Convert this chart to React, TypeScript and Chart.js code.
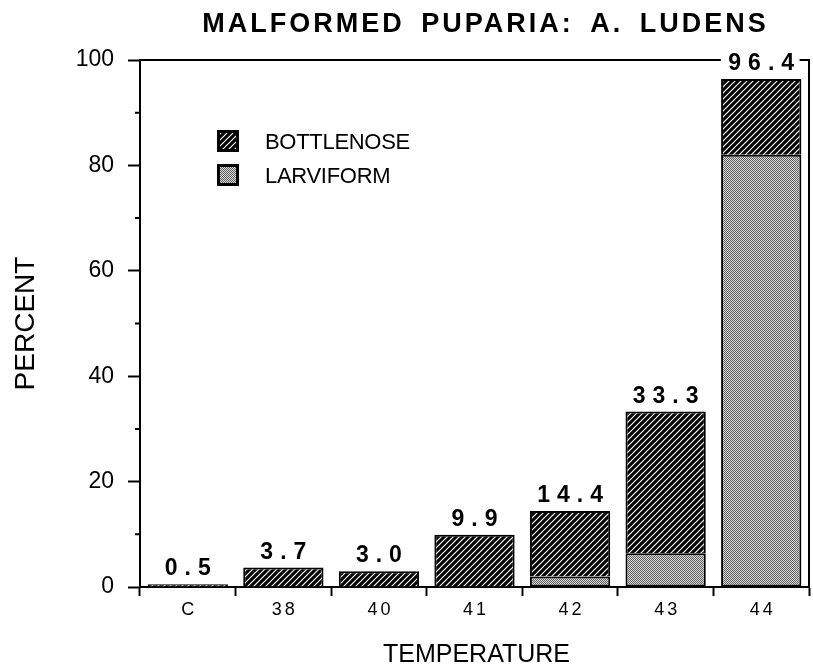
import { useEffect, useRef } from "react";
import { Chart, registerables } from "chart.js";

Chart.register(...registerables);

const categories = ["C", "38", "40", "41", "42", "43", "44"];
const larviform: (number | null)[] = [null, null, null, null, 2.0, 6.4, 82.0];
const bottlenose: number[] = [0.5, 3.7, 3.0, 9.9, 12.4, 26.9, 14.4];
const minorTicks = [10, 30, 50, 70, 90];
const seriesNames = ["BOTTLENOSE", "LARVIFORM"];
const titleText = "MALFORMED PUPARIA: A. LUDENS";
const xTitle = "TEMPERATURE";
const yTitle = "PERCENT";

const FAMILY = "'Liberation Sans', Arial, Helvetica, sans-serif";

function makeHatch(): CanvasPattern | string {
  const c = document.createElement("canvas");
  c.width = 6;
  c.height = 6;
  const g = c.getContext("2d");
  if (!g) return "#333";
  g.fillStyle = "#000";
  g.fillRect(0, 0, 6, 6);
  g.strokeStyle = "#fff";
  g.lineWidth = 1.2;
  g.beginPath();
  g.moveTo(-1, 7);
  g.lineTo(7, -1);
  g.moveTo(-1, 1);
  g.lineTo(1, -1);
  g.moveTo(5, 7);
  g.lineTo(7, 5);
  g.stroke();
  return g.createPattern(c, "repeat") || "#333";
}

function makeStipple(): CanvasPattern | string {
  const c = document.createElement("canvas");
  c.width = 2;
  c.height = 2;
  const g = c.getContext("2d");
  if (!g) return "#aaa";
  g.fillStyle = "#dedede";
  g.fillRect(0, 0, 2, 2);
  g.fillStyle = "#5a5a5a";
  g.fillRect(0, 0, 1, 1);
  g.fillRect(1, 1, 1, 1);
  return g.createPattern(c, "repeat") || "#aaa";
}

export default function App() {
  const ref = useRef<HTMLCanvasElement | null>(null);

  useEffect(() => {
    const canvas = ref.current;
    if (!canvas) return;
    const hatch = makeHatch();
    const stipple = makeStipple();

    const decor = {
      id: "decor",
      afterDraw(chart: any) {
        const ctx: CanvasRenderingContext2D = chart.ctx;
        const ca = chart.chartArea;
        const xs = chart.scales.x;
        const ys = chart.scales.y;
        ctx.save();
        ctx.fillStyle = "#000";
        ctx.strokeStyle = "#000";

        // frame top and right
        ctx.lineWidth = 2;
        ctx.beginPath();
        ctx.moveTo(ca.left, ca.top);
        ctx.lineTo(ca.right, ca.top);
        ctx.lineTo(ca.right, ca.bottom);
        ctx.stroke();

        // minor ticks
        ctx.beginPath();
        minorTicks.forEach((v) => {
          const py = ys.getPixelForValue(v);
          ctx.moveTo(ca.left - 5, py);
          ctx.lineTo(ca.left, py);
        });
        ctx.stroke();

        // x tick labels
        ctx.font = `18px ${FAMILY}`;
        (ctx as any).letterSpacing = "3px";
        ctx.textAlign = "center";
        ctx.textBaseline = "alphabetic";
        categories.forEach((c, i) => {
          const px = xs.getPixelForValue(i);
          ctx.fillText(c, px + 1.5, ca.bottom + 28);
        });

        // data labels
        const meta = chart.getDatasetMeta(1);
        ctx.font = `bold 23px ${FAMILY}`;
        (ctx as any).letterSpacing = "7px";
        categories.forEach((_, i) => {
          const total = (larviform[i] || 0) + bottlenose[i];
          const txt = total.toFixed(1);
          const px = meta.data[i].x;
          const py = ys.getPixelForValue(total);
          const w = ctx.measureText(txt).width;
          ctx.fillStyle = "#fff";
          ctx.fillRect(px - w / 2 - 4, py - 9 - 20, w + 6, 23);
          ctx.fillStyle = "#000";
          ctx.fillText(txt, px + 3.5, py - 9);
        });

        // legend
        (ctx as any).letterSpacing = "0px";
        const fills = [hatch, stipple];
        const bx = ca.left + 77;
        const by = [ca.top + 70, ca.top + 104];
        const size = 22;
        seriesNames.forEach((name, i) => {
          ctx.fillStyle = fills[i] as any;
          ctx.fillRect(bx, by[i], size, size);
          ctx.lineWidth = 3;
          ctx.strokeStyle = "#000";
          ctx.strokeRect(bx + 1.5, by[i] + 1.5, size - 3, size - 3);
          ctx.fillStyle = "#000";
          ctx.font = `22px ${FAMILY}`;
          ctx.textAlign = "left";
          ctx.textBaseline = "alphabetic";
          (ctx as any).letterSpacing = "-0.3px";
          ctx.fillText(name, ca.left + 125, by[i] + size / 2 + 8);
          (ctx as any).letterSpacing = "0px";
        });

        // title
        ctx.font = `bold 27px ${FAMILY}`;
        (ctx as any).letterSpacing = "3px";
        (ctx as any).wordSpacing = "6px";
        ctx.textAlign = "center";
        ctx.fillText(titleText, (ca.left + ca.right) / 2 + 11, 32);
        (ctx as any).letterSpacing = "0px";
        (ctx as any).wordSpacing = "0px";

        // x title
        ctx.font = `25px ${FAMILY}`;
        ctx.fillText(xTitle, (ca.left + ca.right) / 2 + 2, 662);

        // y title
        ctx.save();
        ctx.translate(34, (ca.top + ca.bottom) / 2);
        ctx.rotate(-Math.PI / 2);
        ctx.font = `28px ${FAMILY}`;
        ctx.textAlign = "center";
        ctx.fillText(yTitle, 0, 0);
        ctx.restore();

        ctx.restore();
      },
    };

    const chart = new Chart(canvas, {
      type: "bar",
      data: {
        labels: categories,
        datasets: [
          {
            label: seriesNames[1],
            data: larviform,
            backgroundColor: stipple as any,
            borderColor: "#000",
            borderWidth: 2,
            borderSkipped: false,
            barPercentage: 0.84,
            categoryPercentage: 1,
          },
          {
            label: seriesNames[0],
            data: bottlenose,
            backgroundColor: hatch as any,
            borderColor: "#000",
            borderWidth: 2,
            borderSkipped: "start",
            barPercentage: 0.84,
            categoryPercentage: 1,
          },
        ],
      },
      options: {
        responsive: false,
        animation: false,
        devicePixelRatio: 1,
        layout: { padding: { top: 60, right: 4, left: 0, bottom: 0 } },
        plugins: {
          legend: { display: false },
          title: { display: false },
          tooltip: { enabled: false },
        },
        scales: {
          x: {
            stacked: true,
            grid: {
              display: true,
              drawOnChartArea: false,
              drawTicks: true,
              tickLength: 9,
              tickWidth: 2,
              tickColor: "#000",
              offset: true,
            },
            border: { display: true, color: "#000", width: 2 },
            ticks: { display: false },
            afterFit: (s: any) => {
              s.height = 83;
            },
          },
          y: {
            stacked: true,
            min: 0,
            max: 100,
            ticks: {
              stepSize: 20,
              color: "#000",
              font: { family: FAMILY, size: 23 },
              padding: 14,
            },
            grid: {
              drawOnChartArea: false,
              drawTicks: true,
              tickLength: 12,
              tickWidth: 2,
              tickColor: "#000",
            },
            border: { display: true, color: "#000", width: 2 },
            afterFit: (s: any) => {
              s.width = 140;
            },
          },
        },
      },
      plugins: [decor],
    });

    return () => chart.destroy();
  }, []);

  return (
    <div style={{ position: "absolute", left: 0, top: 0, width: 813, height: 670, background: "#fff" }}>
      <canvas ref={ref} width={813} height={670} style={{ display: "block" }} />
    </div>
  );
}
